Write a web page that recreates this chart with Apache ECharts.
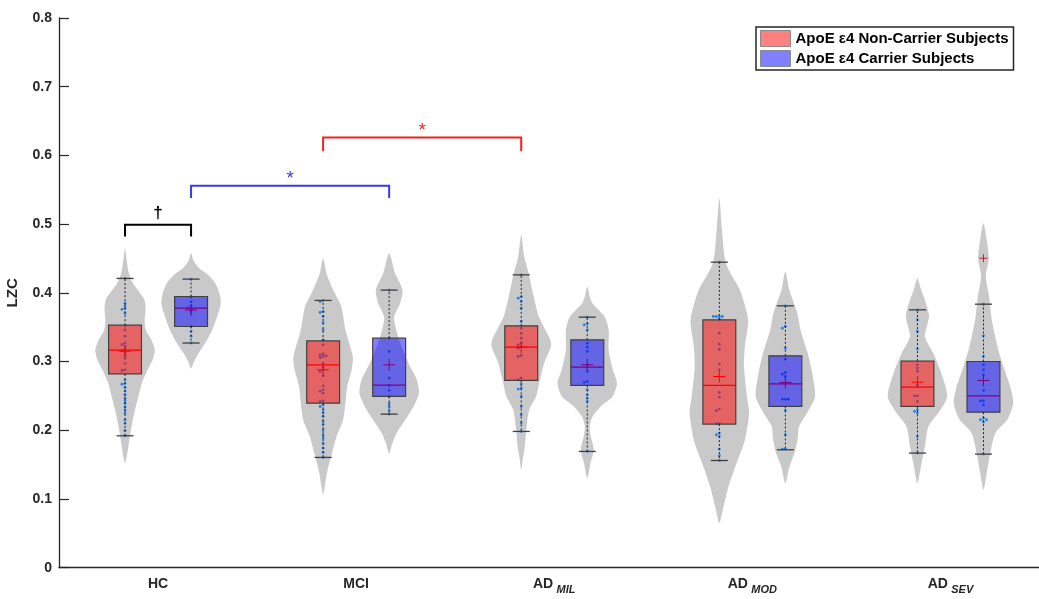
<!DOCTYPE html>
<html><head><meta charset="utf-8">
<script src="https://cdn.jsdelivr.net/npm/echarts@6/dist/echarts.min.js"></script>
<style>html,body{margin:0;padding:0;background:#fff}#c{width:1039px;height:599px}</style>
</head><body><div id="c"></div>
<script>
// ---------- data ----------
const categories = ['HC', 'MCI', 'AD_MIL', 'AD_MOD', 'AD_SEV'];
const seriesNames = ['ApoE ε4 Non-Carrier Subjects', 'ApoE ε4 Carrier Subjects'];
const yTicks = [0, 0.1, 0.2, 0.3, 0.4, 0.5, 0.6, 0.7, 0.8];

// box stats: [lower whisker, q1, median, q3, upper whisker]
const boxNonCarrier = [
  [0.192, 0.282, 0.3166, 0.353, 0.421],
  [0.1605, 0.2395, 0.2953, 0.330, 0.389],
  [0.1983, 0.2725, 0.321, 0.352, 0.4262],
  [0.156, 0.209, 0.2652, 0.3607, 0.4446],
  [0.1668, 0.2347, 0.2628, 0.3006, 0.3753]
];
const boxCarrier = [
  [0.327, 0.351, 0.3777, 0.3947, 0.420],
  [0.2235, 0.2492, 0.2657, 0.334, 0.404],
  [0.1692, 0.2652, 0.2919, 0.3316, 0.3646],
  [0.1716, 0.2347, 0.2676, 0.3084, 0.3811],
  [0.1653, 0.2264, 0.2502, 0.3001, 0.3835]
];
const meanNonCarrier = [0.315, 0.288, 0.321, 0.2783, 0.270];
const meanCarrier = [0.375, 0.2953, 0.2953, 0.2696, 0.2725];
// outliers: [category index, value]
const outliersCarrier = [[4, 0.4504]];
const outliersNonCarrier = [];

// subject values (dots)
const pointsNonCarrier = [
  [0.421,0.385,0.381,0.377,0.376,0.370,0.352,0.346,0.337,0.327,0.325,0.322,0.318,0.316,0.313,0.309,0.305,0.297,0.288,0.287,0.273,0.268,0.267,0.262,0.257,0.252,0.247,0.243,0.239,0.234,0.230,0.225,0.215,0.210,0.200,0.192],
  [0.3888,0.3874,0.3729,0.3714,0.3656,0.3568,0.3462,0.3316,0.3244,0.3113,0.3098,0.3084,0.3074,0.3059,0.2977,0.2919,0.288,0.2856,0.2793,0.2647,0.2589,0.2565,0.2541,0.2429,0.2419,0.2371,0.2346,0.2298,0.225,0.2201,0.2128,0.208,0.2007,0.1935,0.1886,0.1813,0.1741,0.1677,0.1605],
  [0.4262,0.3946,0.3923,0.3874,0.3777,0.3583,0.3486,0.3413,0.3341,0.3268,0.3244,0.322,0.3195,0.3088,0.3074,0.2759,0.2735,0.2676,0.2613,0.2599,0.2492,0.2346,0.2225,0.2105,0.1983],
  [0.4446,0.3656,0.3656,0.3656,0.3656,0.3617,0.3413,0.3253,0.318,0.2967,0.288,0.255,0.2483,0.2308,0.2288,0.2095,0.2095,0.1959,0.1935,0.191,0.1726,0.1629,0.1561],
  [0.3753,0.3607,0.3438,0.3185,0.2953,0.2904,0.2856,0.2662,0.2502,0.2502,0.2419,0.2298,0.2274,0.225,0.191,0.1668]
];
const pointsCarrier = [
  [0.420,0.394,0.387,0.381,0.378,0.376,0.372,0.351,0.344,0.337,0.327],
  [0.4039,0.3341,0.3147,0.2760,0.2650,0.2580,0.2490,0.2390,0.2340,0.2280,0.2235],
  [0.3646,0.3549,0.3535,0.3462,0.3268,0.321,0.3147,0.2953,0.2856,0.271,0.2696,0.2589,0.2516,0.2468,0.2419,0.1692],
  [0.3811,0.351,0.3486,0.3195,0.3035,0.2841,0.2817,0.2783,0.2453,0.2453,0.2453,0.2288,0.1935,0.1726,0.1726],
  [0.3835,0.3375,0.3074,0.2953,0.288,0.2807,0.2579,0.2429,0.2429,0.2371,0.2177,0.2153,0.2153,0.2119,0.1653]
];

// violin outlines: [value, relative density] from top to bottom
const violinNonCarrier = [
  [[0.465,0],[0.45,0.05],[0.43,0.12],[0.415,0.25],[0.403,0.45],[0.39,0.65],[0.375,0.69],[0.36,0.66],[0.346,0.70],[0.332,0.88],[0.317,1.0],[0.3025,0.93],[0.288,0.76],[0.269,0.57],[0.249,0.45],[0.225,0.31],[0.201,0.2],[0.176,0.11],[0.16,0.05],[0.152,0]],
  [[0.4504,0],[0.4286,0.11],[0.404,0.34],[0.38,0.61],[0.346,0.75],[0.307,1.0],[0.288,0.96],[0.2637,0.81],[0.2395,0.75],[0.215,0.67],[0.191,0.45],[0.162,0.27],[0.1425,0.15],[0.12,0.06],[0.106,0]],
  [[0.4844,0],[0.4529,0.1],[0.4286,0.25],[0.3946,0.42],[0.3656,0.59],[0.3316,0.98],[0.322,1.0],[0.2977,0.77],[0.2735,0.63],[0.2492,0.5],[0.2298,0.27],[0.2007,0.17],[0.1764,0.12],[0.16,0.06],[0.1425,0]],
  [[0.5377,0],[0.4916,0.09],[0.4432,0.22],[0.4044,0.69],[0.3705,0.93],[0.356,0.97],[0.322,0.86],[0.2928,0.83],[0.249,0.93],[0.225,1.0],[0.186,0.86],[0.1523,0.58],[0.1183,0.31],[0.089,0.14],[0.065,0]],
  [[0.4213,0],[0.405,0.12],[0.3898,0.25],[0.3656,0.39],[0.3365,0.25],[0.3123,0.53],[0.2832,0.8],[0.2492,1.0],[0.225,0.7],[0.2055,0.37],[0.1764,0.25],[0.1523,0.14],[0.1232,0]]
];
const violinCarrier = [
  [[0.458,0],[0.447,0.08],[0.437,0.25],[0.427,0.55],[0.415,0.8],[0.40,0.95],[0.385,1.0],[0.366,0.88],[0.346,0.71],[0.327,0.48],[0.312,0.25],[0.30,0.1],[0.29,0]],
  [[0.4577,0],[0.4286,0.2],[0.404,0.45],[0.385,0.37],[0.3655,0.17],[0.351,0.21],[0.327,0.37],[0.2977,0.65],[0.2735,0.93],[0.254,1.0],[0.2346,0.82],[0.215,0.54],[0.196,0.25],[0.18,0.1],[0.166,0]],
  [[0.4092,0],[0.395,0.08],[0.385,0.17],[0.3656,0.58],[0.346,0.72],[0.317,0.72],[0.288,0.86],[0.2686,1.0],[0.249,0.85],[0.2346,0.45],[0.22,0.18],[0.2055,0.08],[0.191,0.12],[0.1716,0.22],[0.1523,0.11],[0.1305,0]],
  [[0.431,0],[0.4044,0.13],[0.3705,0.4],[0.346,0.51],[0.3123,0.75],[0.288,0.88],[0.249,1.0],[0.225,0.73],[0.2055,0.46],[0.186,0.41],[0.1668,0.31],[0.1473,0.14],[0.123,0]],
  [[0.5013,0],[0.4771,0.11],[0.4504,0.18],[0.4238,0.08],[0.3946,0.19],[0.3607,0.28],[0.322,0.47],[0.2928,0.67],[0.2637,0.9],[0.2395,1.0],[0.2153,0.8],[0.196,0.4],[0.1668,0.23],[0.1377,0.11],[0.1135,0]]
];

// significance brackets: [category A, series A, category B, series B]
const bracketPairs = [[0, 0, 0, 1], [0, 1, 1, 1], [1, 0, 2, 0]];
const bracketLevels = [[0.499, 0.482], [0.556, 0.538], [0.626, 0.606]];
const bracketLabels = ['†', '*', '*'];

// ---------- layout / style ----------
const SIDE = 1 / 6;        // offset of each series from category centre (category units)
const VIOLIN_HALF = 0.15;  // max half width of violin (category units)
const BOX_HALF = 0.083;
const CAP_HALF = 0.043;
const FONT = "'Liberation Sans', Arial, Helvetica, sans-serif";
const boxFill = ['rgba(255,0,0,0.5)', 'rgba(0,0,255,0.5)'];
const legendFill = ['#FF8080', '#8080FF'];
const bracketColor = ['#000000', '#3b3bdc', '#ee2020'];

const boxes = [boxNonCarrier, boxCarrier];
const means = [meanNonCarrier, meanCarrier];
const violins = [violinNonCarrier, violinCarrier];
const points = [pointsNonCarrier, pointsCarrier];
const outliers = [outliersNonCarrier, outliersCarrier];

function centerX(g, s) { return g + 0.5 + (s === 0 ? -SIDE : SIDE); }

// beeswarm slot assignment (deterministic)
const dotData = [];
points.forEach((grpArr, s) => grpArr.forEach((vals, g) => {
  const placed = [];
  vals.slice().sort((a, b) => b - a).forEach(v => {
    const used = placed.filter(p => Math.abs(p.v - v) < 0.0035).map(p => p.k);
    const seq = [0, -1, 1, -2, 2, -3, 3];
    const k = seq.find(q => used.indexOf(q) < 0);
    placed.push({ v, k });
    dotData.push([g, s, v, k]);
  });
}));

const violinData = [], boxData0 = [], boxData1 = [];
for (let g = 0; g < categories.length; g++) {
  violinData.push([g, 0]); violinData.push([g, 1]);
  boxData0.push([g, 0]); boxData1.push([g, 1]);
}
const outlierData = [];
outliers.forEach((arr, s) => arr.forEach(o => outlierData.push([o[0], s, o[1]])));
const bracketData = bracketPairs.map((p, i) => [i]);

function renderViolin(params, api) {
  const g = api.value(0), s = api.value(1);
  const prof = violins[s][g];
  const xc = centerX(g, s);
  const left = prof.map(([v, w]) => api.coord([xc - w * VIOLIN_HALF, v]));
  const right = prof.slice(1, -1).map(([v, w]) => api.coord([xc + w * VIOLIN_HALF, v])).reverse();
  return { type: 'polygon', shape: { points: left.concat(right), smooth: 0.25 }, style: { fill: '#c9c9c9' } };
}

function renderBox(params, api) {
  const g = api.value(0), s = api.value(1);
  const b = boxes[s][g], m = means[s][g];
  const xc = centerX(g, s);
  const L = api.coord([xc - BOX_HALF, 0])[0], R = api.coord([xc + BOX_HALF, 0])[0];
  const cx = api.coord([xc, 0])[0];
  const cL = api.coord([xc - CAP_HALF, 0])[0], cR = api.coord([xc + CAP_HALF, 0])[0];
  const y = v => api.coord([xc, v])[1];
  const red = '#ff0000';
  return {
    type: 'group',
    children: [
      { type: 'line', shape: { x1: L, y1: y(b[2]), x2: R, y2: y(b[2]) }, style: { stroke: red, lineWidth: 1.2 } },
      { type: 'line', shape: { x1: cx - 6, y1: y(m), x2: cx + 6, y2: y(m) }, style: { stroke: red, lineWidth: 1 } },
      { type: 'line', shape: { x1: cx, y1: y(m) - 6, x2: cx, y2: y(m) + 6 }, style: { stroke: red, lineWidth: 1 } },
      { type: 'rect', shape: { x: L, y: y(b[3]), width: R - L, height: y(b[1]) - y(b[3]) },
        style: { fill: boxFill[s], stroke: '#404040', lineWidth: 1.2 } },
      { type: 'line', shape: { x1: cx, y1: y(b[3]), x2: cx, y2: y(b[4]) }, style: { stroke: '#222', lineWidth: 1, lineDash: [2, 2] } },
      { type: 'line', shape: { x1: cx, y1: y(b[1]), x2: cx, y2: y(b[0]) }, style: { stroke: '#222', lineWidth: 1, lineDash: [2, 2] } },
      { type: 'line', shape: { x1: cL, y1: y(b[4]), x2: cR, y2: y(b[4]) }, style: { stroke: '#404040', lineWidth: 1.3 } },
      { type: 'line', shape: { x1: cL, y1: y(b[0]), x2: cR, y2: y(b[0]) }, style: { stroke: '#404040', lineWidth: 1.3 } }
    ]
  };
}

function renderDot(params, api) {
  const g = api.value(0), s = api.value(1), v = api.value(2), k = api.value(3);
  const p = api.coord([centerX(g, s), v]);
  return { type: 'circle', shape: { cx: p[0] + k * 3, cy: p[1], r: 1.4 }, style: { fill: '#2a7de1' } };
}

function renderOutlier(params, api) {
  const g = api.value(0), s = api.value(1), v = api.value(2);
  const p = api.coord([centerX(g, s), v]);
  return { type: 'group', children: [
    { type: 'line', shape: { x1: p[0] - 4, y1: p[1], x2: p[0] + 4, y2: p[1] }, style: { stroke: '#e01030', lineWidth: 1 } },
    { type: 'line', shape: { x1: p[0], y1: p[1] - 4, x2: p[0], y2: p[1] + 4 }, style: { stroke: '#e01030', lineWidth: 1 } }
  ] };
}

function renderBracket(params, api) {
  const i = api.value(0);
  const pr = bracketPairs[i], lv = bracketLevels[i];
  const a = api.coord([centerX(pr[0], pr[1]), lv[0]]);
  const b = api.coord([centerX(pr[2], pr[3]), lv[0]]);
  const legY = api.coord([0, lv[1]])[1];
  const col = bracketColor[i];
  const isDagger = bracketLabels[i] === '†';
  return { type: 'group', children: [
    { type: 'polyline', shape: { points: [[a[0], legY], [a[0], a[1]], [b[0], b[1]], [b[0], legY]] },
      style: { stroke: col, lineWidth: 2, fill: null } },
    { type: 'text', x: (a[0] + b[0]) / 2, y: a[1] - (isDagger ? 12 : 7),
      style: { text: bracketLabels[i], fill: col, fontSize: isDagger ? 17 : 19, fontWeight: isDagger ? 'bold' : 'normal',
        fontFamily: FONT, align: 'center', verticalAlign: 'middle' } }
  ] };
}

const labelText = c => {
  const parts = c.split('_');
  return parts.length > 1 ? '{a|' + parts[0] + '} {s|' + parts[1] + '}' : '{h|' + c + '}';
};

const chart = echarts.init(document.getElementById('c'), null, { renderer: 'canvas' });
chart.setOption({
  animation: false,
  backgroundColor: '#ffffff',
  grid: { left: 59, right: -10.5, top: 18, bottom: 31.3, containLabel: false, outerBoundsMode: 'none' },
  legend: {
    orient: 'vertical', left: 756, top: 27,
    itemWidth: 30, itemHeight: 16, itemGap: 3,
    padding: [3, 5, 3, 4],
    borderColor: '#262626', borderWidth: 1.5, backgroundColor: '#fff',
    selectedMode: false,
    textStyle: { fontFamily: FONT, fontSize: 15, fontWeight: 'bold', color: '#000', lineHeight: 16 },
    data: seriesNames.map((n, i) => ({ name: n, icon: 'rect', itemStyle: { color: legendFill[i], borderColor: '#8a8a8a', borderWidth: 1 } }))
  },
  xAxis: [
    {
      type: 'category', data: categories, boundaryGap: true,
      axisLine: { lineStyle: { color: '#262626', width: 1.3 } },
      axisTick: { inside: true, length: 10, alignWithLabel: true, lineStyle: { color: '#262626', width: 1.2 } },
      axisLabel: {
        margin: 9, formatter: labelText, verticalAlign: 'top',
        rich: {
          h: { fontFamily: FONT, fontSize: 14, fontWeight: 'bold', color: '#262626', padding: [0, 0, 6, 0] },
          a: { fontFamily: FONT, fontSize: 14, fontWeight: 'bold', color: '#262626', padding: [0, 0, 6, 0] },
          s: { fontFamily: FONT, fontSize: 11, fontWeight: 'bold', fontStyle: 'italic', color: '#262626', padding: [6, 0, 0, 0] }
        }
      },
      splitLine: { show: false }
    },
    { type: 'value', min: 0, max: 5, show: false }
  ],
  yAxis: {
    type: 'value', min: 0, max: 0.8, interval: 0.1,
    name: 'LZC', nameLocation: 'middle', nameGap: 39,
    nameTextStyle: { fontFamily: FONT, fontSize: 15, fontWeight: 'bold', color: '#262626' },
    axisLine: { show: true, lineStyle: { color: '#262626', width: 1.3 } },
    axisTick: { show: true, inside: true, length: 10, lineStyle: { color: '#262626', width: 1.2 } },
    axisLabel: { margin: 7, fontFamily: FONT, fontSize: 14, fontWeight: 'bold', color: '#262626',
      formatter: v => String(Math.round(v * 10) / 10) },
    splitLine: { show: false }
  },
  series: [
    { type: 'custom', name: 'violins', xAxisIndex: 1, z: 1, data: violinData, renderItem: renderViolin, silent: true },
    { type: 'custom', name: 'dots', xAxisIndex: 1, z: 2, data: dotData, renderItem: renderDot, silent: true },
    { type: 'custom', name: seriesNames[0], xAxisIndex: 1, z: 3, data: boxData0, renderItem: renderBox, itemStyle: { color: legendFill[0] } },
    { type: 'custom', name: seriesNames[1], xAxisIndex: 1, z: 3, data: boxData1, renderItem: renderBox, itemStyle: { color: legendFill[1] } },
    { type: 'custom', name: 'outliers', xAxisIndex: 1, z: 4, data: outlierData, renderItem: renderOutlier, silent: true },
    { type: 'custom', name: 'brackets', xAxisIndex: 1, z: 5, data: bracketData, renderItem: renderBracket, silent: true }
  ]
});
</script></body></html>
